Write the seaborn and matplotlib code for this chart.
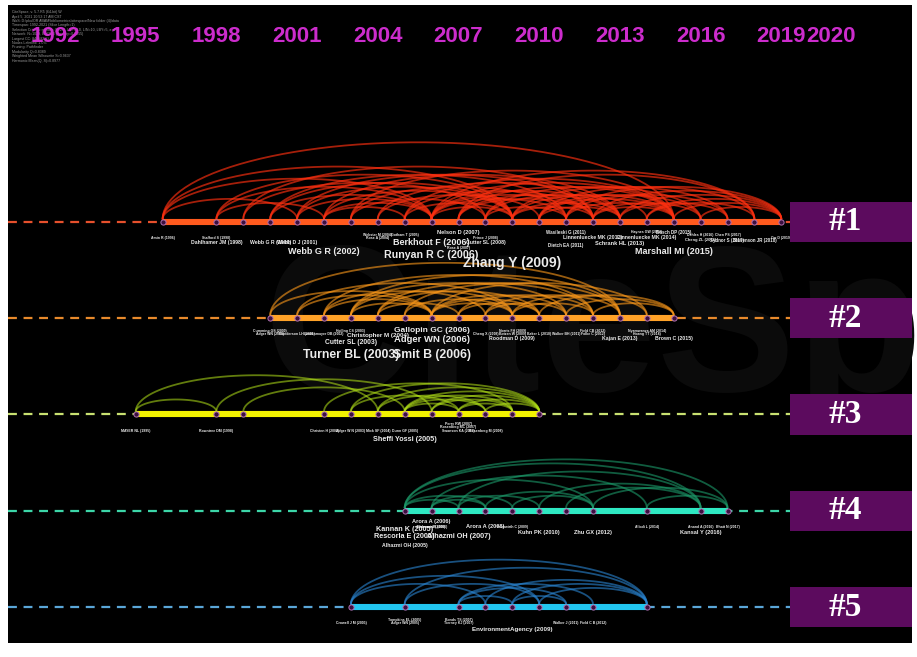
"""
CiteSpace-style timeline view of five co-citation clusters
"""
import matplotlib
matplotlib.use("Agg")
import matplotlib.pyplot as plt
from matplotlib.patches import Rectangle
import numpy as np
import pandas as pd
import seaborn as sns

# ---- data ----
year_ticks = [1992, 1995, 1998, 2001, 2004, 2007, 2010, 2013, 2016, 2019, 2020]
cluster_names = ["#1", "#2", "#3", "#4", "#5"]
cluster_spans = [(1996, 2019), (2000, 2015), (1995, 2010), (2005, 2017), (2003, 2014)]

c1_nodes = [1996, 1998, 1999, 2000, 2001, 2002, 2003, 2004, 2005, 2006, 2007, 2008,
            2009, 2010, 2011, 2012, 2013, 2014, 2015, 2016, 2017, 2018, 2019]
c2_nodes = [2000, 2001, 2002, 2003, 2004, 2005, 2006, 2007, 2008, 2009, 2010, 2011,
            2012, 2013, 2014, 2015]
c3_nodes = [1995, 1998, 1999, 2002, 2003, 2004, 2005, 2006, 2007, 2008, 2009, 2010]
c4_nodes = [2005, 2006, 2007, 2008, 2009, 2010, 2011, 2012, 2014, 2016, 2017]
c5_nodes = [2003, 2005, 2007, 2008, 2009, 2010, 2011, 2012, 2014]

c1_arcs = [(1996, 2006), (1996, 2009), (1996, 2015), (1998, 2006), (1998, 2009),
           (1999, 2008), (2000, 2006), (2000, 2009), (2001, 2009), (2001, 2012),
           (2002, 2006), (2002, 2009), (2002, 2013), (2003, 2008), (2003, 2011),
           (2005, 2009), (2005, 2012), (2006, 2009), (2006, 2011), (2006, 2013),
           (2006, 2015), (2007, 2012), (2007, 2015), (2008, 2011), (2008, 2014),
           (2009, 2012), (2009, 2015), (2009, 2017), (2010, 2015), (2010, 2018),
           (2011, 2015), (2011, 2019), (2012, 2016), (2013, 2017), (2013, 2019),
           (2014, 2018), (2015, 2019), (1998, 2002), (2002, 2005), (1996, 2001),
           (2004, 2010), (2006, 2018), (2012, 2019), (2003, 2015), (2001, 2006),
           (2005, 2015), (2007, 2013), (2008, 2016), (2009, 2013), (2010, 2013),
           (2011, 2017), (2012, 2015), (2014, 2019), (2016, 2019), (2004, 2013),
           (1999, 2012), (2000, 2011), (2007, 2018), (2010, 2016), (2006, 2012)]
c2_arcs = [(2000, 2006), (2001, 2006), (2001, 2009), (2002, 2006), (2002, 2008),
           (2003, 2006), (2003, 2009), (2003, 2011), (2004, 2007), (2004, 2010),
           (2005, 2009), (2005, 2013), (2006, 2009), (2006, 2011), (2006, 2014),
           (2007, 2010), (2007, 2012), (2008, 2013), (2009, 2014), (2010, 2015),
           (2011, 2015), (2003, 2013), (2000, 2013), (2002, 2012), (2004, 2012),
           (2006, 2010), (2008, 2011), (2009, 2012), (2012, 2015)]
c3_arcs = [(1995, 2004), (1995, 1998), (1999, 2005), (1998, 2006), (2003, 2010),
           (2004, 2010), (2005, 2010), (2005, 2009), (2006, 2010), (2006, 2009),
           (2007, 2010), (2007, 2009), (2008, 2010), (2003, 2007), (2004, 2008),
           (2005, 2008), (2002, 2009), (2005, 2007)]
c4_arcs = [(2005, 2017), (2005, 2016), (2006, 2014), (2007, 2016), (2005, 2008),
           (2006, 2008), (2007, 2010), (2008, 2012), (2009, 2012), (2010, 2016),
           (2012, 2017), (2014, 2017), (2005, 2007), (2006, 2009), (2011, 2016),
           (2005, 2012)]
c5_arcs = [(2003, 2014), (2003, 2008), (2005, 2014), (2005, 2010), (2007, 2011),
           (2007, 2012), (2008, 2014), (2009, 2014), (2009, 2011), (2010, 2014),
           (2007, 2009), (2003, 2010)]

# (author, year, citation count)
c1_labels = [("Zhang Y", 2009, 20), ("Runyan R C", 2006, 14), ("Webb G R", 2002, 11),
             ("Marshall MI", 2015, 11), ("Berkhout F", 2006, 11), ("Nelson D", 2007, 5),
             ("Schrank HL", 2013, 5), ("Dahlhamer JM", 1998, 4), ("Webb G R", 2000, 4),
             ("Webb D J", 2001, 4), ("Cutter SL", 2008, 4), ("Linnenluecke MK", 2012, 4),
             ("Linnenluecke MK", 2014, 4), ("Wasileski G", 2011, 3), ("Dietch EA", 2011, 3),
             ("Bosch DP", 2015, 3), ("Sydnor S", 2017, 3), ("Stevenson JR", 2018, 3),
             ("Cheng ZL", 2016, 2), ("Amin R", 1996, 1), ("Stafford S", 1998, 1),
             ("Rose A", 2004, 1), ("Webster M", 2004, 1), ("Gotham T", 2005, 1),
             ("Rose A", 2007, 1), ("Prince J", 2008, 1), ("Haynes GW", 2014, 1),
             ("Dahles H", 2016, 1), ("Chen PS", 2017, 1), ("Orr D", 2019, 1)]
c2_labels = [("Turner BL", 2003, 17), ("Smit B", 2006, 17), ("Adger WN", 2006, 12),
             ("Gallopin GC", 2006, 10), ("Cutter SL", 2003, 7), ("Christopher M", 2004, 6),
             ("Roodman D", 2009, 4), ("Kajan E", 2013, 4), ("Brown C", 2015, 4),
             ("Adger WN", 2000, 1), ("Gunderson LH", 2001, 1), ("Cumming GS", 2000, 1),
             ("Lindenmayer DB", 2002, 1), ("Holling CS", 2003, 1), ("Cheng X", 2008, 1),
             ("Botzen W", 2009, 1), ("Norris FH", 2009, 1), ("Baker L", 2010, 1),
             ("Walker BH", 2011, 1), ("Folke C", 2012, 1), ("Field CB", 2012, 1),
             ("Hoang TT", 2014, 1), ("Nyamwanza AM", 2014, 1)]
c3_labels = [("Sheffi Yossi", 2005, 8), ("MAYER NL", 1995, 1), ("Rowntree DM", 1998, 1),
             ("Christen H", 2002, 1), ("Adger W N", 2003, 1), ("Mick SF", 2004, 1),
             ("Dunn GF", 2005, 1), ("Swanson KA", 2007, 1), ("Rosenberg MC", 2007, 1),
             ("Perry RW", 2007, 1), ("Rosenberg M", 2008, 1)]
c4_labels = [("Alhazmi OH", 2007, 8), ("Rescorla E", 2005, 8), ("Kannan K", 2005, 8),
             ("Arora A", 2006, 5), ("Arora A", 2008, 5), ("Kuhn PK", 2010, 5),
             ("Zhu GX", 2012, 5), ("Kansal Y", 2016, 5), ("Alhazmi OH", 2005, 4),
             ("Anderson R", 2006, 1), ("Ozment A", 2006, 1), ("Fruhwirth C", 2009, 1),
             ("Allodi L", 2014, 1), ("Anand A", 2016, 1), ("Bhatt N", 2017, 1)]
c5_labels = [("EnvironmentAgency", 2009, 6), ("Crowell J M", 2003, 1), ("Adger WN", 2005, 1),
             ("Tompkins EL", 2005, 1), ("Tierney KJ", 2007, 1), ("Bonds TS", 2007, 1),
             ("Walker J", 2011, 1), ("Field C B", 2012, 1)]

info_lines = [
    "CiteSpace, v. 5.7.R5 (64-bit) W",
    "April 5, 2021 10:53:17 AM CST",
    "WoS: D:\\pku\\OR ABAM\\bibliometrics\\citespace\\New folder (4)\\data",
    "Timespan: 1992-2021 (Slice Length=1)",
    "Selection Criteria: g-index (k=25), LRF=3.0, L/N=10, LBY=5, e=1.0",
    "Network: N=1029, E=2893 (Density=0.0055)",
    "Largest CC: 846 (82%)",
    "Nodes Labeled: 1.0%",
    "Pruning: Pathfinder",
    "Modularity Q=0.8389",
    "Weighted Mean Silhouette S=0.9637",
    "Harmonic Mean(Q, S)=0.8977",
]

# ---- styling ----
all_nodes = [c1_nodes, c2_nodes, c3_nodes, c4_nodes, c5_nodes]
all_arcs = [c1_arcs, c2_arcs, c3_arcs, c4_arcs, c5_arcs]
all_labels = [c1_labels, c2_labels, c3_labels, c4_labels, c5_labels]
bar_colors = ["#ff5a1e", "#ffa228", "#f2f200", "#2ee8c2", "#22c6f0"]
arc_colors = ["#ff3010", "#ff9a1a", "#b4e418", "#1c9a6a", "#2a86d4"]
arc_alpha = [0.65, 0.6, 0.55, 0.6, 0.6]
dash_colors = ["#e6502c", "#e88a2c", "#c8e070", "#3cd6a8", "#5aa6d8"]

PX_PER_YEAR = 26.9
PX_PER_ROW = 96.25
x_left = 1992 + (8 - 55) / PX_PER_YEAR
x_right = 1992 + (912 - 55) / PX_PER_YEAR
y_top = 1 + (5 - 222) / PX_PER_ROW
y_bottom = 1 + (643 - 222) / PX_PER_ROW
box_left = 1992 + (790 - 55) / PX_PER_YEAR

sns.set_theme(style="dark", rc={"axes.facecolor": "black", "figure.facecolor": "white"})
plt.rcParams["font.family"] = ["Liberation Sans", "DejaVu Sans"]

fig = plt.figure(figsize=(9.17, 6.57), dpi=100)
ax = fig.add_axes([8 / 917, 14 / 657, 904 / 917, 638 / 657])
ax.set_xlim(x_left, x_right)
ax.set_ylim(y_bottom, y_top)
ax.set_xticks([])
ax.set_yticks([])
for s in ax.spines.values():
    s.set_visible(False)

# faint watermark
ax.text(2012, 2.2, "CiteSp", fontsize=150, color="#0b0b0b", ha="center",
        va="center", weight="bold", zorder=0)

# info block
for i, line in enumerate(info_lines):
    ax.text(0.004, 0.992 - i * 0.0069, line, transform=ax.transAxes, fontsize=2.6,
            color="#9a9a9a", va="top", ha="left")

# year labels on top, pushed right when they would collide
year_label_w = 1.85
prev = None
for yr in year_ticks:
    xpos = yr if prev is None else max(yr, prev + year_label_w)
    prev = xpos
    ax.text(xpos, 1 + (37 - 222) / PX_PER_ROW, str(yr), color="#cc2ccc", fontsize=16,
            weight="bold", ha="center", va="center")


def place_labels(labels):
    """bigger labels sit lower; a smaller label that clashes moves up toward the line"""
    placed, out = [], []
    for name, year, count in sorted(labels, key=lambda t: -t[2]):
        fs = np.interp(count, [1, 20], [2.5, 10])
        text = f"{name} ({year})"
        w = len(text) * fs * 1.389 * 0.56 / PX_PER_YEAR
        h = fs * 1.389
        base = 8 + 3.3 * fs
        step = h * 0.95
        cands = [base - i * step for i in range(6) if base - i * step >= 8]
        cands += [base + i * step for i in range(1, 4)]
        off = base
        for c in cands:
            clash = any(abs(year - py) < (w + pw) / 2 * 0.6 and abs(c - po) < (h + ph) / 2 * 0.8
                        for py, pw, po, ph in placed)
            if not clash:
                off = c
                break
        placed.append((year, w, off, h))
        out.append((text, year, fs, off))
    return out


t = np.linspace(0, np.pi, 60)
rows = []
for k in range(5):
    row = k + 1
    start, end = cluster_spans[k]
    # dashed guide line
    ax.plot([x_left, box_left], [row, row], color=dash_colors[k], lw=1.6,
            ls=(0, (4, 3)), zorder=1)
    # arcs
    for a, b in all_arcs[k]:
        mid, half = (a + b) / 2, (b - a) / 2
        hgt = 0.042 * (b - a)
        ax.plot(mid + half * np.cos(t), row - 0.03 - hgt * np.sin(t),
                color=arc_colors[k], lw=1.3, alpha=arc_alpha[k], zorder=2)
    # solid active span
    ax.hlines(row, start, end, color=bar_colors[k], lw=4.4, zorder=3)
    for yr in all_nodes[k]:
        rows.append({"year": yr, "row": row})
    # labels
    for text, yr, fs, off in place_labels(all_labels[k]):
        ax.text(yr, row + off / PX_PER_ROW, text, fontsize=fs, color="#ececec",
                weight="bold", ha="center", va="center", zorder=5)
    # cluster tag
    ax.add_patch(Rectangle((box_left, row - 0.208), x_right - box_left, 0.416,
                           facecolor="#5c0b5e", edgecolor="none", zorder=6))
    ax.text((box_left + x_right) / 2 - 0.2, row, cluster_names[k], color="white",
            fontsize=24, weight="bold", ha="center", va="center", zorder=7,
            family=["Liberation Serif", "DejaVu Serif"])

nodes_df = pd.DataFrame(rows)
sns.scatterplot(data=nodes_df, x="year", y="row", color="#3c1040", edgecolor="#b070b0",
                s=14, linewidth=0.7, ax=ax, zorder=4, legend=False)
ax.set_xlabel("")
ax.set_ylabel("")
ax.set_xlim(x_left, x_right)
ax.set_ylim(y_bottom, y_top)

fig.savefig("out.png", dpi=100, facecolor="white")
